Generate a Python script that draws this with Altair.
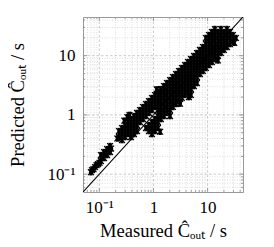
import altair as alt
import pandas as pd

# ---- data (measured, predicted) in seconds ----
cluster_a = [(0.0733, 0.117), (0.078, 0.122), (0.0833, 0.132), (0.089, 0.142), (0.0946, 0.148),
             (0.101, 0.155), (0.107, 0.166), (0.107, 0.210), (0.115, 0.19), (0.122, 0.187),
             (0.122, 0.236), (0.13, 0.23), (0.139, 0.210), (0.139, 0.265), (0.148, 0.25),
             (0.158, 0.236), (0.158, 0.298), (0.07, 0.108), (0.165, 0.27)]

lower_blob = [(0.231, 0.534), (0.231, 0.423), (0.215, 0.40), (0.29, 0.80), (0.33, 0.92), (0.36, 1.0),
              (0.262, 0.600), (0.262, 0.475), (0.262, 0.376),
              (0.298, 0.674), (0.298, 0.534), (0.298, 0.423),
              (0.338, 0.758), (0.338, 0.600), (0.338, 0.475),
              (0.384, 0.851), (0.384, 0.674), (0.384, 0.534), (0.384, 0.423),
              (0.437, 0.957), (0.437, 0.758), (0.437, 0.600), (0.437, 0.475),
              (0.496, 1.08), (0.496, 0.851), (0.496, 0.674), (0.496, 0.534),
              (0.563, 1.21), (0.563, 0.957), (0.563, 0.758),
              (0.640, 1.36), (0.640, 1.08), (0.640, 0.851),
              (0.727, 1.53), (0.727, 1.21), (0.727, 0.957),
              (0.826, 1.71), (0.826, 1.36), (0.826, 1.08),
              (0.938, 1.93), (0.938, 1.53), (0.938, 1.21),
              (1.065, 2.17), (1.065, 1.71), (1.065, 1.36),
              (1.21, 2.43), (1.21, 1.93), (1.21, 1.53), (1.21, 1.21), (1.15, 2.7)]

lower_branch = [(0.727, 0.600), (0.826, 0.674), (0.826, 0.534), (0.938, 0.758), (0.938, 0.600),
                (0.938, 0.475), (1.065, 0.851), (1.065, 0.674), (1.065, 0.534), (1.21, 0.957),
                (1.21, 0.758), (1.21, 0.600), (1.33, 0.52)]

middle_band = [(1.37, 2.73), (1.37, 2.17), (1.37, 1.71), (1.37, 1.36), (1.37, 1.08), (1.37, 0.851),
               (1.56, 3.07), (1.56, 2.43), (1.56, 1.93), (1.56, 1.53), (1.56, 1.21), (1.56, 0.957),
               (1.77, 3.45), (1.77, 2.73), (1.77, 2.17), (1.77, 1.71), (1.77, 1.36), (1.77, 1.08),
               (2.02, 3.88), (2.02, 3.07), (2.02, 2.43), (2.02, 1.93), (2.02, 1.53), (2.02, 1.21), (2.02, 0.957),
               (2.29, 4.36), (2.29, 3.45), (2.29, 2.73), (2.29, 2.17), (2.29, 1.71), (2.29, 1.36),
               (2.60, 4.90), (2.60, 3.88), (2.60, 3.07), (2.60, 2.43), (2.60, 1.93), (2.60, 1.53),
               (2.95, 5.51), (2.95, 4.36), (2.95, 3.45), (2.95, 2.73), (2.95, 2.17), (2.95, 1.71),
               (3.35, 6.19), (3.35, 4.90), (3.35, 3.88), (3.35, 3.07), (3.35, 2.43), (3.35, 1.93),
               (3.81, 6.95), (3.81, 5.51), (3.81, 4.36), (3.81, 3.45), (3.81, 2.73), (3.81, 2.17),
               (4.33, 7.81), (4.33, 6.19), (4.33, 4.90), (4.33, 3.88), (4.33, 3.07), (4.33, 2.43),
               (4.92, 8.78), (4.92, 6.95), (4.92, 5.51), (4.92, 4.36), (4.92, 3.45), (4.92, 2.73), (4.92, 2.17),
               (3.1, 1.55), (4.5, 2.0)]

upper_band = [(5.59, 9.87), (5.59, 7.81), (5.59, 6.19), (5.59, 4.90), (5.59, 3.88), (5.59, 3.07),
              (6.35, 11.1), (6.35, 8.78), (6.35, 6.95), (6.35, 5.51), (6.35, 4.36), (6.35, 3.45),
              (7.21, 12.5), (7.21, 9.87), (7.21, 7.81), (7.21, 6.19), (7.21, 4.90),
              (8.19, 14.0), (8.19, 11.1), (8.19, 8.78), (8.19, 6.95), (8.19, 5.51),
              (9.30, 19.9), (9.30, 15.7), (9.30, 12.5), (9.30, 9.87), (9.30, 7.81), (9.30, 6.19),
              (10.6, 22.3), (10.6, 17.7), (10.6, 14.0), (10.6, 11.1), (10.6, 8.78), (10.6, 6.95)]

top_cluster = [(12.0, 25.1), (12.0, 19.9), (12.0, 15.7), (12.0, 12.5), (12.0, 9.87), (12.0, 7.81),
               (13.6, 28.2), (13.6, 22.3), (13.6, 17.7), (13.6, 14.0), (13.6, 11.1), (13.6, 8.78),
               (15.5, 25.1), (15.5, 19.9), (15.5, 15.7), (15.5, 12.5), (15.5, 9.87), (15.5, 8.3),
               (17.6, 28.2), (17.6, 22.3), (17.6, 17.7), (17.6, 14.0), (17.6, 11.1),
               (20.0, 25.1), (20.0, 19.9), (20.0, 15.7), (20.0, 12.5),
               (22.7, 28.2), (22.7, 22.3), (22.7, 17.7), (22.7, 14.0),
               (25.8, 25.1), (25.8, 19.9), (25.8, 15.7),
               (29.3, 22.3), (29.3, 17.7), (33.3, 19.9), (31.0, 16.5)]

axis_domain = [0.05, 45]
diagonal = [0.05, 45]
major_ticks = [0.1, 1, 10]
major_labels = ["10\u207b\u00b9", "1", "10"]
minor_ticks = [0.06, 0.07, 0.08, 0.09, 0.2, 0.3, 0.4, 0.5, 0.6, 0.7, 0.8, 0.9,
               2, 3, 4, 5, 6, 7, 8, 9, 20, 30, 40]
x_title = "Measured \u0108\u2092\u1d64\u209c / s"
y_title = "Predicted \u0108\u2092\u1d64\u209c / s"

# ---- tables ----
all_points = cluster_a + lower_blob + lower_branch + middle_band + upper_band + top_cluster
pts = pd.DataFrame(all_points, columns=["measured", "predicted"])
diag_df = pd.DataFrame({"v": diagonal})
major_df = pd.DataFrame({"v": major_ticks})
minor_df = pd.DataFrame({"v": minor_ticks})

W, H = 160, 175
FONT = "Liberation Serif"
xs = alt.Scale(type="log", domain=axis_domain, nice=False)
ys = alt.Scale(type="log", domain=axis_domain, nice=False)

label_expr = (f"datum.value < 0.5 ? '{major_labels[0]}' : "
              f"(datum.value < 5 ? '{major_labels[1]}' : '{major_labels[2]}')")

x_axis = alt.Axis(values=major_ticks, labelExpr=label_expr, title=x_title,
                  grid=False, ticks=False, domain=False, tickSize=0, labelPadding=7,
                  titleY=44, titleBaseline="alphabetic", titleFontSize=18.5)
y_axis = alt.Axis(values=major_ticks, labelExpr=label_expr, title=y_title,
                  grid=False, ticks=False, domain=False, tickSize=0, labelPadding=8,
                  titleAngle=270, titleX=-60, titleBaseline="alphabetic", titleFontSize=18.5)


def X(field):
    return alt.X(field, scale=xs, axis=x_axis)


def Y(field):
    return alt.Y(field, scale=ys, axis=y_axis)


def vgrid(df, color, dash):
    return alt.Chart(df).mark_rule(color=color, strokeDash=dash, strokeWidth=0.8).encode(x=X("v:Q"))


def hgrid(df, color, dash):
    return alt.Chart(df).mark_rule(color=color, strokeDash=dash, strokeWidth=0.8).encode(y=Y("v:Q"))


def xticks(df, length):
    top = alt.Chart(df).mark_rule(color="#888888", strokeWidth=0.8).encode(
        x=X("v:Q"), y=alt.value(0), y2=alt.value(length))
    bot = alt.Chart(df).mark_rule(color="#888888", strokeWidth=0.8).encode(
        x=X("v:Q"), y=alt.value(H), y2=alt.value(H - length))
    return [top, bot]


def yticks(df, length):
    left = alt.Chart(df).mark_rule(color="#888888", strokeWidth=0.8).encode(
        y=Y("v:Q"), x=alt.value(0), x2=alt.value(length))
    right = alt.Chart(df).mark_rule(color="#888888", strokeWidth=0.8).encode(
        y=Y("v:Q"), x=alt.value(W), x2=alt.value(W - length))
    return [left, right]


diag_line = alt.Chart(diag_df).mark_line(color="black", strokeWidth=1.1, clip=True).encode(
    x=X("v:Q"), y=Y("v:Q"))

# dense overplotting in the original: a filled core under each cross closes the gaps
core = "M-0.5,-1L0.5,-1L0.5,1L-0.5,1Z"
cores = alt.Chart(pts).mark_point(shape=core, size=42, filled=True, color="black",
                                  opacity=1, strokeWidth=0, clip=True).encode(
    x=X("measured:Q"), y=Y("predicted:Q"))

cross = "M-1,-1L1,1M-1,1L1,-1"
points = alt.Chart(pts).mark_point(shape=cross, size=34, filled=False, color="black",
                                   strokeWidth=1.2, opacity=1, clip=True).encode(
    x=X("measured:Q"), y=Y("predicted:Q"))

layers = [vgrid(minor_df, "#d4d4d4", [1, 1.5]), hgrid(minor_df, "#d4d4d4", [1, 1.5]),
          vgrid(major_df, "#bdbdbd", [2.5, 2]), hgrid(major_df, "#bdbdbd", [2.5, 2])]
layers += xticks(minor_df, 2) + xticks(major_df, 4) + yticks(minor_df, 2) + yticks(major_df, 4)
layers += [diag_line, cores, points]

chart = alt.layer(*layers).properties(
    width=W, height=H,
    autosize=alt.AutoSizeParams(type="none"),
    padding={"left": 75, "top": 9, "right": 23, "bottom": 47},
).configure_view(stroke="#999999", strokeWidth=1).configure_axis(
    labelFont=FONT, labelFontSize=17, labelColor="black",
    titleFont=FONT, titleColor="black", titleFontWeight="normal",
)

chart.save("out.html", embed_options={"renderer": "svg", "actions": False})
